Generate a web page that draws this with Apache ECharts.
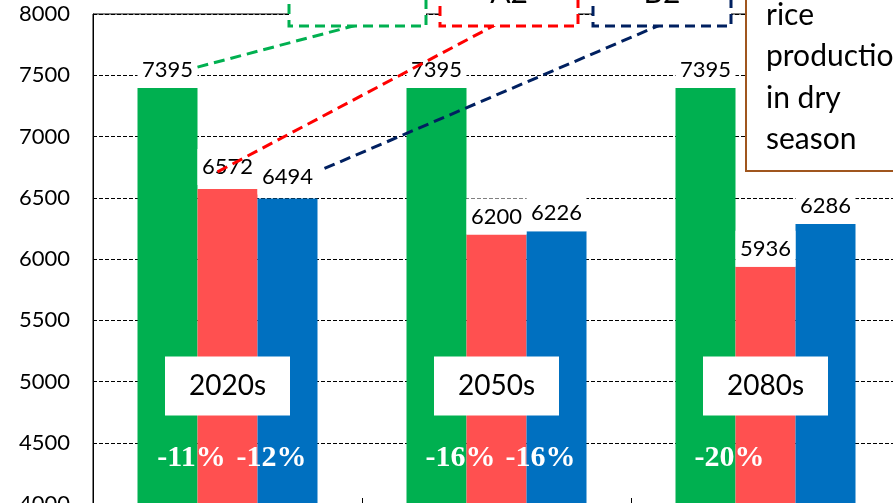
<!DOCTYPE html>
<html>
<head>
<meta charset="utf-8">
<script src="https://cdn.jsdelivr.net/npm/echarts@6/dist/echarts.min.js"></script>
<style>
html,body{margin:0;padding:0;background:#fff;}
#c{width:893px;height:503px;}
</style>
</head>
<body>
<div id="c"></div>
<script>
// ---- data ----
var categories = ['2020s', '2050s', '2080s'];
var seriesNames = ['Base', 'A2', 'B2'];
var baseline = [7395, 7395, 7395];
var a2 = [6572, 6200, 5936];
var b2 = [6494, 6226, 6286];
var pctA2 = ['-11%', '-16%', '-20%'];
var pctB2 = ['-12%', '-16%', ''];
var yTicks = { min: 4000, max: 8000, interval: 500 };
var noteLines = ['rice', 'production', 'in dry', 'season'];

// ---- layout / style constants ----
var FONT = 'Lato, "Open Sans", sans-serif';
var colors = { base: '#00B050', a2: '#FF5050', b2: '#0070C0' };
var lineColors = { base: '#00B050', a2: '#FF0000', b2: '#002060' };
var pctY = 4376;

var chart = echarts.init(document.getElementById('c'));

function valueLabel() {
  return {
    show: true, position: 'top', distance: 0,
    fontFamily: FONT, fontSize: 22, color: '#000',
    backgroundColor: '#fff', width: 60, height: 36, lineHeight: 36,
    align: 'center', padding: 0
  };
}
function barData(vals, firstDist) {
  return vals.map(function (v, i) {
    if (i === 0 && firstDist) return { value: v, label: { distance: firstDist } };
    return v;
  });
}
function pctSeries(arr, dx) {
  return {
    type: 'scatter', symbolSize: 0, z: 5, silent: true,
    itemStyle: { opacity: 1 },
    data: categories.map(function (c, i) { return { value: [c, pctY], name: arr[i] }; }),
    label: {
      show: true, position: 'inside', offset: [dx, 0],
      formatter: function (p) { return p.name; },
      fontFamily: '"Liberation Serif", "Times New Roman", serif',
      fontWeight: 'bold', fontSize: 30, color: '#fff',
      textBorderWidth: 0, textShadowBlur: 0
    }
  };
}

var option = {
  animation: false,
  grid: { left: 93, top: 14, width: 807, height: 490, outerBoundsMode: 'none', containLabel: false, show: true, borderColor: '#000', borderWidth: 1, backgroundColor: 'transparent' },
  xAxis: {
    type: 'category', data: categories, z: 10,
    axisLine: { show: true, lineStyle: { color: '#000' } },
    axisTick: { show: true, inside: true, length: 6, lineStyle: { color: '#000' } },
    axisLabel: {
      margin: -118, verticalAlign: 'middle',
      fontFamily: FONT, fontSize: 28, color: '#000',
      backgroundColor: '#fff', width: 125, height: 59, lineHeight: 59, align: 'center'
    }
  },
  yAxis: {
    type: 'value', min: yTicks.min, max: yTicks.max, interval: yTicks.interval,
    axisLine: { show: true, lineStyle: { color: '#000' } },
    axisTick: { show: false },
    axisLabel: { margin: 23, fontFamily: FONT, fontSize: 22, color: '#000', formatter: function (v) { return String(v); } },
    splitLine: { show: true, lineStyle: { color: '#000', type: [4, 2], width: 1 } }
  },
  series: [
    { name: seriesNames[0], type: 'bar', barWidth: 60, barGap: '0%', data: barData(baseline), itemStyle: { color: colors.base }, label: valueLabel() },
    { name: seriesNames[1], type: 'bar', barWidth: 60, barGap: '0%', data: barData(a2, 4), itemStyle: { color: colors.a2 }, label: valueLabel() },
    { name: seriesNames[2], type: 'bar', barWidth: 60, barGap: '0%', data: barData(b2, 4), itemStyle: { color: colors.b2 }, label: valueLabel() },
    pctSeries(pctA2, -36),
    pctSeries(pctB2, 44)
  ]
};
chart.setOption(option);

// ---- annotations (legend boxes, leader lines, note box) ----
function px(cat, val) { return chart.convertToPixel({ xAxisIndex: 0, yAxisIndex: 0 }, [cat, val]); }
var pBase = px(categories[0], baseline[0]);
var pA2 = px(categories[0], a2[0]);
var pB2 = px(categories[0], b2[0]);

var boxes = [
  { x: 289, w: 137, color: lineColors.base, text: seriesNames[0], ty: -13 },
  { x: 440, w: 138, color: lineColors.a2, text: seriesNames[1], ty: -7 },
  { x: 593, w: 138, color: lineColors.b2, text: seriesNames[2], ty: -7 }
];
var graphics = [];
boxes.forEach(function (b) {
  graphics.push({
    type: 'rect', z: 100, shape: { x: b.x, y: -40, width: b.w, height: 66 },
    style: { fill: '#fff', stroke: b.color, lineWidth: 3, lineDash: [10, 6] }
  });
  graphics.push({
    type: 'text', z: 101, x: b.x + b.w / 2, y: b.ty,
    style: { text: b.text, fontFamily: FONT, fontSize: 30, fill: '#000', align: 'center', verticalAlign: 'middle' }
  });
});
var leaders = [
  { from: [pBase[0] - 60 + 30, pBase[1] - 21], to: [357, 25], color: lineColors.base },
  { from: [pA2[0] - 10, pA2[1] - 17], to: [495, 25], color: lineColors.a2 },
  { from: [pB2[0] + 97, pB2[1] - 30], to: [660, 25], color: lineColors.b2 }
];
leaders.forEach(function (l) {
  graphics.push({
    type: 'line', z: 99, shape: { x1: l.from[0], y1: l.from[1], x2: l.to[0], y2: l.to[1] },
    style: { stroke: l.color, lineWidth: 3, lineDash: [11, 6] }
  });
});
graphics.push({
  type: 'rect', z: 100, shape: { x: 746, y: -60, width: 220, height: 231 },
  style: { fill: '#fff', stroke: '#A0561E', lineWidth: 2 }
});
noteLines.forEach(function (t, i) {
  graphics.push({
    type: 'text', z: 101, x: 766, y: 15 + i * 41.5,
    style: { text: t, fontFamily: FONT, fontSize: 30, fill: '#000', align: 'left', verticalAlign: 'middle' }
  });
});
chart.setOption({ graphic: graphics });
</script>
</body>
</html>
